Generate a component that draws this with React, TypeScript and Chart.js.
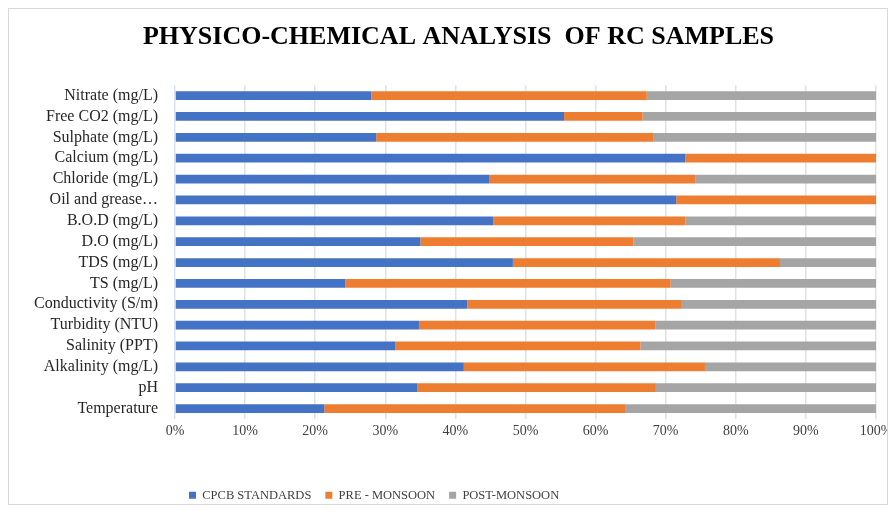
import React, { useEffect, useRef } from "react";
import { Chart, registerables } from "chart.js";

Chart.register(...registerables);

const categories = [
  "Nitrate (mg/L)",
  "Free CO2 (mg/L)",
  "Sulphate (mg/L)",
  "Calcium (mg/L)",
  "Chloride (mg/L)",
  "Oil and grease…",
  "B.O.D (mg/L)",
  "D.O (mg/L)",
  "TDS (mg/L)",
  "TS (mg/L)",
  "Conductivity (S/m)",
  "Turbidity (NTU)",
  "Salinity (PPT)",
  "Alkalinity (mg/L)",
  "pH",
  "Temperature",
];

// shares in percent of each row
const cpcbStandards = [28.0, 55.5, 28.7, 72.8, 44.8, 71.5, 45.4, 35.0, 48.2, 24.3, 41.7, 34.8, 31.4, 41.2, 34.6, 21.3];
const preMonsoon = [39.3, 11.2, 39.5, 27.2, 29.4, 28.5, 27.4, 30.4, 38.1, 46.4, 30.6, 33.7, 35.0, 34.4, 34.0, 42.9];
const postMonsoon = [32.7, 33.3, 31.8, 0, 25.8, 0, 27.2, 34.6, 13.7, 29.3, 27.7, 31.5, 33.6, 24.4, 31.4, 35.8];

const seriesNames = ["CPCB STANDARDS", "PRE - MONSOON", "POST-MONSOON"];
const xTicks = [0, 10, 20, 30, 40, 50, 60, 70, 80, 90, 100];
const title = "PHYSICO-CHEMICAL ANALYSIS  OF RC SAMPLES";

const FONT = "'Liberation Serif', 'Times New Roman', serif";

const layoutShift = {
  id: "layoutShift",
  afterLayout(chart: any) {
    const lg = chart.legend;
    if (lg) {
      lg.left = 166;
    }
    const tb = chart.titleBlock;
    if (tb) {
      tb.left += 32;
    }
  },
};

export default function App() {
  const ref = useRef<HTMLCanvasElement | null>(null);

  useEffect(() => {
    if (!ref.current) return;
    const barPct = 0.42;
    const chart = new Chart(ref.current, {
      type: "bar",
      data: {
        labels: categories,
        datasets: [
          { label: seriesNames[0], data: cpcbStandards, backgroundColor: "#4472C4", barPercentage: barPct, categoryPercentage: 1 },
          { label: seriesNames[1], data: preMonsoon, backgroundColor: "#ED7D31", barPercentage: barPct, categoryPercentage: 1 },
          { label: seriesNames[2], data: postMonsoon, backgroundColor: "#A5A5A5", barPercentage: barPct, categoryPercentage: 1 },
        ],
      },
      plugins: [layoutShift],
      options: {
        indexAxis: "y",
        animation: false,
        responsive: true,
        maintainAspectRatio: false,
        layout: { padding: { left: 0, right: 11, top: 0, bottom: 2 } },
        plugins: {
          title: {
            display: true,
            text: title,
            color: "#000000",
            font: { family: FONT, size: 26, weight: "bold" },
            padding: { top: 13, bottom: 32 },
          },
          legend: {
            position: "bottom",
            align: "start",
            maxHeight: 27,
            labels: {
              color: "#404040",
              font: { family: FONT, size: 12.5 },
              boxWidth: 7,
              boxHeight: 7,
              padding: 14,
            },
          },
          tooltip: { enabled: false },
        },
        scales: {
          x: {
            stacked: true,
            min: 0,
            max: 100,
            afterBuildTicks: (scale: any) => {
              scale.ticks = xTicks.map((v) => ({ value: v }));
            },
            afterFit: (scale: any) => {
              scale.paddingLeft = 0;
              scale.paddingRight = 0;
              scale.height = 56;
            },
            grid: { color: "#dde2ea", lineWidth: 1.5, drawTicks: false },
            border: { display: false },
            ticks: {
              color: "#404040",
              font: { family: FONT, size: 14 },
              padding: 4,
              maxRotation: 0,
              autoSkip: false,
              callback: (v: any) => v + "%",
            },
          },
          y: {
            stacked: true,
            afterFit: (scale: any) => {
              scale.width = 166;
            },
            grid: { display: false },
            border: { display: false },
            ticks: {
              color: "#262626",
              font: { family: FONT, size: 16 },
              padding: 9,
              autoSkip: false,
            },
          },
        },
      },
    });
    return () => chart.destroy();
  }, []);

  return (
    <div style={{ width: 878, height: 495, border: "1px solid #d9d9d9", position: "relative", background: "#fff" }}>
      <canvas ref={ref} />
    </div>
  );
}
